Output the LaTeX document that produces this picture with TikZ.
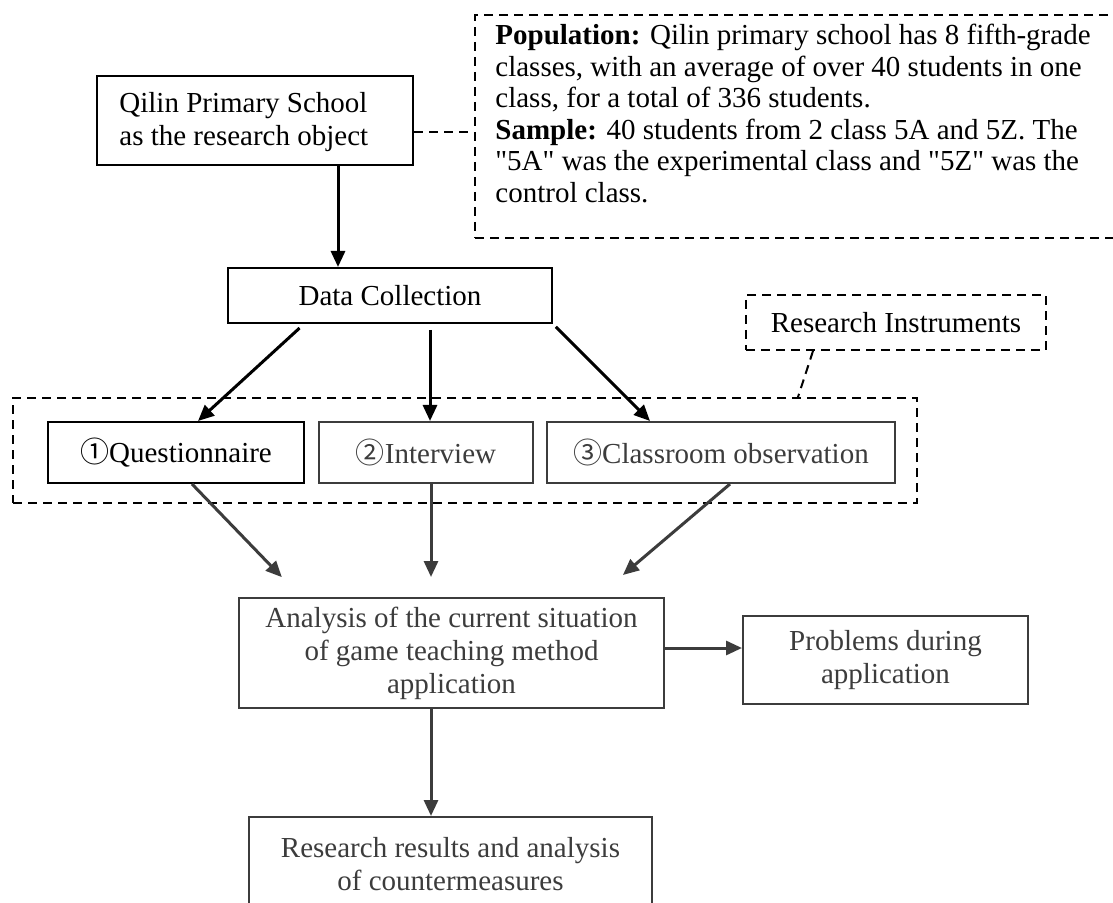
\documentclass[tikz,border=0pt]{standalone}
\usepackage{fontspec}
\setmainfont{Liberation Serif}
\newfontfamily\circfont{Noto Sans CJK SC}
\newfontfamily\qfont{Liberation Serif}
\usetikzlibrary{arrows.meta,calc}
\definecolor{grayink}{HTML}{3C3C3C}
\newcommand{\circd}[1]{{\circfont\fontsize{14.5}{14.5}\selectfont #1}}
\newcommand{\qt}[1]{{\qfont"}#1{\qfont"}}
\begin{document}
\begin{tikzpicture}[x=0.5pt,y=-0.5pt,
  every node/.style={font=\fontsize{14.5}{16.5}\selectfont},
  solidbox/.style={draw=black,line width=1pt,align=center,inner sep=0pt},
  graybox/.style={draw=grayink,text=grayink,line width=1pt,align=center,inner sep=0pt},
  dashbox/.style={draw=black,line width=1pt,dash pattern=on 4.5pt off 3pt},
  blackarrow/.style={draw=black,line width=1.5pt,-{Triangle[length=8pt,width=7pt]}},
  grayarrow/.style={draw=grayink,line width=1.5pt,-{Triangle[length=8pt,width=7pt]}},
  dashlink/.style={draw=black,line width=1pt,dash pattern=on 4.5pt off 3pt}]
\useasboundingbox (0,0) rectangle (1113,903);
\clip (0,0) rectangle (1113,903);
\fill[white] (0,0) rectangle (1113,903);

% top boxes
\node[solidbox,minimum width=158pt,minimum height=44.5pt] (qilin) at (255,120.5) {};
\node[anchor=west,inner sep=0pt,align=left] (qilintext) at (119,122) {Qilin Primary School\\as the research object};
\node[dashbox,minimum width=327.5pt,minimum height=111.5pt,inner sep=0pt] (popbox) at (802.5,126.5) {};
\node[anchor=north west,inner sep=0pt,align=left,font=\fontsize{14.5}{15.75}\selectfont] (poptext) at (495,24)
  {\textbf{Population:} Qilin primary school has 8 fifth-grade\\
   classes, with an average of over 40 students in one\\
   class, for a total of 336 students.\\
   \textbf{Sample:} 40 students from 2 class 5A and 5Z. The\\
   \qt{5A} was the experimental class and \qt{5Z} was the\\
   control class.};

\node[solidbox,minimum width=162pt,minimum height=27.5pt] (data) at (390,295.5) {Data Collection};
\node[dashbox,minimum width=150pt,minimum height=27.5pt,inner sep=0pt] (ri) at (896,322.5) {Research Instruments};

% instruments group
\node[dashbox,minimum width=452pt,minimum height=52.5pt,inner sep=0pt] (group) at (465,450.5) {};
\node[solidbox,minimum width=128pt,minimum height=30.5pt] (q) at (176,452.5) {\circd{①}Questionnaire};
\node[graybox,minimum width=107pt,minimum height=30.5pt] (iv) at (426,452.5) {\circd{②}Interview};
\node[graybox,minimum width=174pt,minimum height=30.5pt] (co) at (721,452.5) {\circd{③}Classroom observation};

% lower boxes
\node[graybox,minimum width=212.5pt,minimum height=55pt] (an) at (451.5,653)
  {Analysis of the current situation\\of game teaching method\\application};
\node[graybox,minimum width=142.5pt,minimum height=44pt] (pr) at (885.5,660)
  {Problems during\\application};
\node[graybox,minimum width=201.5pt,minimum height=47pt] (rs) at (450.5,864)
  {Research results and analysis\\of countermeasures};

% connectors
\draw[dashlink] ([yshift=-5.75pt]qilin.east) -- ([yshift=-5.75pt]qilin.east -| popbox.west);
\draw[blackarrow] ([xshift=-38pt]qilin.south east) -- ([xshift=-38pt]qilin.south east |- data.north);
\draw[blackarrow,shorten <=3pt] ([xshift=38.5pt]data.south west) -- ([xshift=11pt]q.north);
\draw[blackarrow,shorten <=3pt] ([xshift=2pt]iv.north |- data.south) -- ([xshift=2pt]iv.north);
\draw[blackarrow,shorten <=2pt] (data.south east) -- ([xshift=-35.5pt]co.north);
\draw[dashlink] ([xshift=-41.5pt]ri.south) -- ([xshift=166.5pt]group.north);

\draw[grayarrow,shorten >=13.8pt] ([xshift=8pt]q.south) -- ([xshift=31.5pt]an.north west);
\draw[grayarrow,shorten >=10pt] ([xshift=2.5pt]iv.south) -- ([xshift=2.5pt]iv.south |- an.north);
\draw[grayarrow,shorten >=17pt] ([xshift=4.5pt]co.south) -- ([xshift=-34pt]an.north east);
\draw[grayarrow] ([yshift=2.5pt]an.east) -- ([yshift=2.5pt]an.east -| pr.west);
\draw[grayarrow] ([xshift=-10.25pt]an.south) -- ([xshift=-10.25pt]an.south |- rs.north);
\end{tikzpicture}
\end{document}
